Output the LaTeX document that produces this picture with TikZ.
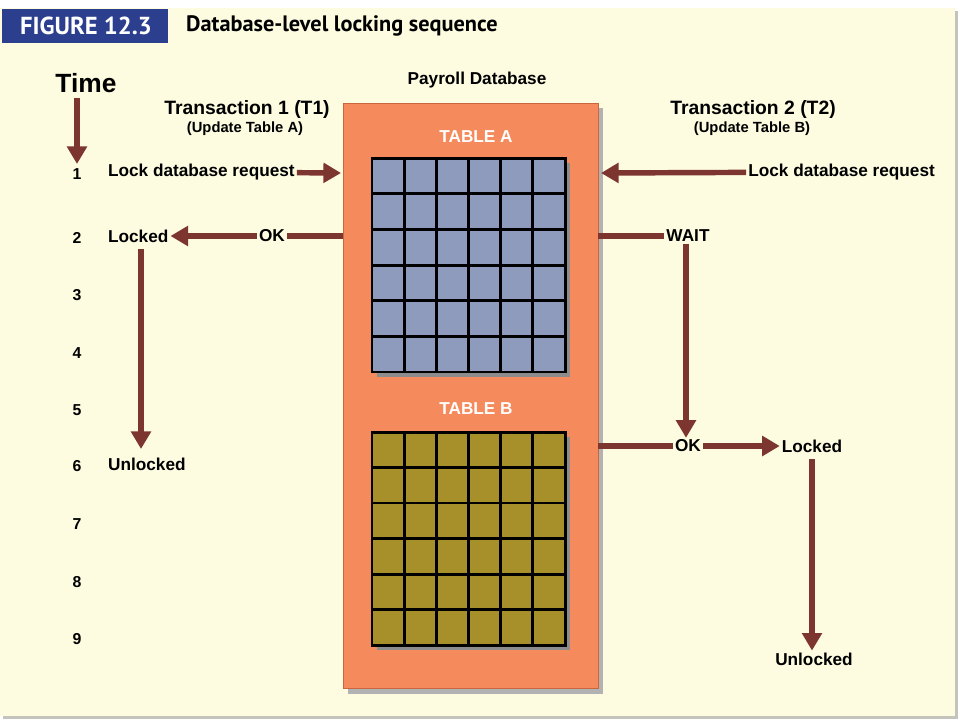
\documentclass[tikz,border=0pt]{standalone}
\usepackage{fontspec}
\setmainfont{Liberation Sans}
\newfontfamily\titlefont{PT Sans}
\usetikzlibrary{arrows.meta}

\definecolor{cream}{HTML}{FDFBE0}
\definecolor{frame}{HTML}{C4C4BC}
\definecolor{figblue}{HTML}{2B3F8E}
\definecolor{dbfill}{HTML}{F58B5C}
\definecolor{dbedge}{HTML}{C9663E}
\definecolor{arrowred}{HTML}{7D3530}
\definecolor{tablea}{HTML}{8E9BBC}
\definecolor{tableb}{HTML}{A78F2A}

\tikzset{
  flow/.style={draw=arrowred, line width=3.1pt},
  arr/.style={flow, -{Triangle[length=10pt,width=11pt]}},
  txt/.style={inner sep=1pt, font=\bfseries\fontsize{9.8}{11}\selectfont},
  sub/.style={inner sep=1pt, font=\bfseries\fontsize{8.4}{10}\selectfont},
  head/.style={inner sep=1pt, font=\bfseries\fontsize{11}{13}\selectfont},
  tick/.style={inner sep=1pt, font=\bfseries\fontsize{9}{10}\selectfont}
}

\begin{document}
\begin{tikzpicture}[x=0.02cm, y=-0.02cm]

        \useasboundingbox (0,0) rectangle (960,720);

        % Page
        \fill[white] (0,0) rectangle (960,720);
        \fill[frame] (3,11) rectangle (958,719);
        \fill[cream] (0,8) rectangle (955,716);

        % Heading
        \fill[figblue] (2,9) rectangle (168,43);
        \node[white, font=\titlefont\bfseries\fontsize{14}{16}\selectfont] (fig) at (86,26) {FIGURE 12.3};
        \node[anchor=west, font=\titlefont\bfseries\fontsize{12.7}{14}\selectfont] (title) at (180,26) {Database-level locking sequence};

        % Payroll database
        \fill[gray!60] (348,108) rectangle (603,694);
        \draw[fill=dbfill, draw=dbedge] (343,103) rectangle (598,688);
        \node[txt] (payroll) at (477,80) {Payroll Database};

        % Table A
        \node[txt, white] (labA) at (476,137) {TABLE A};
        \fill[black!45] (377,163) rectangle (570,377);
        \fill[tablea] (372,158) rectangle (565,372);
        \draw[line width=1.7pt, shift={(372,158)}, xstep=32.17, ystep=-35.67] (0,0) grid (193,214);
        \draw[line width=1.7pt] (372,158) rectangle (565,372);

        % Table B
        \node[txt, white] (labB) at (476,409) {TABLE B};
        \fill[black!45] (377,437) rectangle (570,650);
        \fill[tableb] (372,432) rectangle (565,645);
        \draw[line width=1.7pt, shift={(372,432)}, xstep=32.17, ystep=-35.5] (0,0) grid (193,213);
        \draw[line width=1.7pt] (372,432) rectangle (565,645);

        % Time axis
        \node[font=\bfseries\fontsize{15}{16}\selectfont, inner sep=1pt] (time) at (86,83) {Time};
        \coordinate (t0) at (77,98);
        \coordinate (t1) at (77,164);
        \draw[arr] (t0) -- (t1);
        \foreach \n/\y in {1/174,2/238,3/295,4/353,5/410,6/466,7/524,8/582,9/639}
            \node[tick] (n\n) at (77,\y) {\n};

        % Transaction headers
        \node[head] (tone) at (247,110) {Transaction 1 (T1)};
        \node[sub] (tonesub) at (245,129) {(Update Table A)};
        \node[head] (ttwo) at (753,110) {Transaction 2 (T2)};
        \node[sub] (ttwosub) at (752,129) {(Update Table B)};

        % Edges of the database box
        \coordinate (dbL1) at (341,173);
        \coordinate (dbL2) at (343,236);
        \coordinate (dbR1) at (601,173);
        \coordinate (dbR2) at (598,236);
        \coordinate (dbR6) at (598,446);

        % T1 side
        \node[txt, anchor=west] (reqA) at (106,172) {Lock database request};
        \draw[arr] (reqA) -- (dbL1);
        \node[txt] (okA) at (272,236) {OK};
        \node[txt, anchor=west] (lockA) at (106,236) {Locked};
        \draw[flow] (dbL2) -- (okA);
        \draw[arr] (okA) -- (lockA);
        \node[txt, anchor=west] (unlockA) at (106,464) {Unlocked};
        \coordinate (lA) at (141,249);
        \coordinate (uA) at (141,449);
        \draw[arr] (lA) -- (uA);

        % T2 side
        \node[txt, anchor=east] (reqB) at (937,172) {Lock database request};
        \draw[arr] (reqB) -- (dbR1);
        \node[txt] (wait) at (688,236) {WAIT};
        \draw[flow] (dbR2) -- (wait);
        \node[txt] (okB) at (688,446) {OK};
        \draw[arr] (wait.south -| 686,0) -- (okB.north -| 686,0);
        \draw[flow] (dbR6) -- (okB);
        \node[txt] (lockB) at (812,446) {Locked};
        \draw[arr] (okB) -- (lockB);
        \node[txt] (unlockB) at (814,659) {Unlocked};
        \draw[arr] (lockB.south -| 812,0) ++(0,5) -- (unlockB.north -| 812,0);

    \end{tikzpicture}
\end{document}
